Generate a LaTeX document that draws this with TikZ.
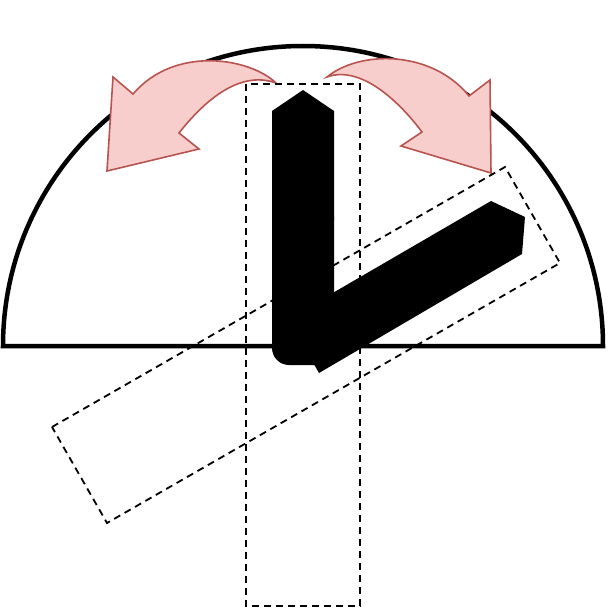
\documentclass[tikz,border=0pt]{standalone}
\definecolor{arrowfill}{HTML}{F8CECC}
\definecolor{arrowline}{HTML}{B85450}
\begin{document}
\begin{tikzpicture}[x=1pt,y=-1pt,
  dome/.style={draw=black,line width=4.5pt,fill=white},
  swing/.style={draw=arrowline,fill=arrowfill,line width=1.6pt,line join=miter},
  guide/.style={draw=black,line width=1.8pt,dash pattern=on 7pt off 5pt},
  blade/.style={fill=black}]
\useasboundingbox (0,0) rectangle (608,610);
% dome
\draw[dome] (3,346) arc[start angle=180,end angle=360,x radius=300,y radius=300] -- cycle;
% left curved arrow
\draw[swing] (276,83) .. controls (250,58) and (175,45) .. (133,94)
  -- (113,77) -- (107,171) -- (199,149) -- (179,133)
  .. controls (205,100) and (240,70) .. cycle;
% right curved arrow
\draw[swing] (327,77) .. controls (360,50) and (432,50) .. (469,96)
  -- (490,80) -- (491,173) -- (401,146) -- (422,132)
  .. controls (398,100) and (360,65) .. cycle;
% black blade: vertical bar
\fill[blade] (272,111) -- (303,90) -- (334,111) -- (334,220) -- (272,220) -- cycle;
\fill[blade,rounded corners=17pt] (272,200) -- (272,365) -- (334,365) -- (334,200) -- cycle;
% black blade: tilted bar
\fill[blade] (319,373) -- (288,319) -- (491,201) -- (525,217) -- (522,254) -- cycle;
% dashed guide rectangles
\draw[guide] (246,84) rectangle (360,606);
\draw[guide] (52,427) -- (505,167) -- (560,263) -- (107,523) -- cycle;
\end{tikzpicture}
\end{document}
